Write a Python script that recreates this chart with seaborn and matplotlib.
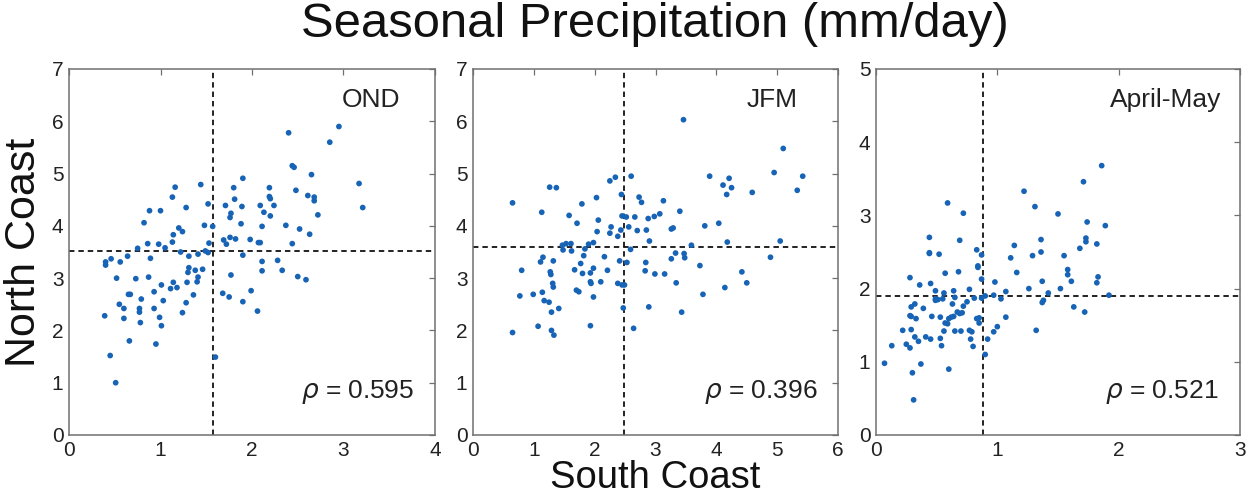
import matplotlib
matplotlib.use('Agg')
import matplotlib.pyplot as plt
import seaborn as sns
import pandas as pd

# ---------------- data ----------------
ond_south = [2.40, 2.95, 2.85, 2.44, 2.46, 2.65, 1.90, 3.17, 3.21, 1.16, 1.44, 1.13, 1.80, 2.19, 2.48,
             2.61, 2.68, 2.68, 2.19, 2.20, 1.81, 1.28, 1.52, 1.71, 1.89, 2.09, 2.24, 0.88, 1.00, 2.13,
             1.77, 1.76, 2.20, 2.72, 0.82, 1.48, 1.57, 1.88, 2.37, 2.11, 1.20, 1.24, 2.52, 1.14, 2.63,
             1.76, 1.82, 1.69, 1.98, 1.13, 1.72, 2.07, 2.09, 0.86, 0.98, 1.05, 1.53, 2.44, 0.75, 1.49,
             1.52, 1.22, 0.64, 0.46, 0.89, 1.31, 1.41, 1.90, 0.40, 0.40, 0.56, 2.11, 2.28, 1.31, 1.30,
             1.38, 1.46, 2.11, 2.33, 1.77, 0.52, 0.73, 0.87, 1.41, 1.40, 1.14, 1.29, 2.50, 2.59, 1.01,
             1.11, 1.18, 0.93, 1.99, 0.65, 0.67, 1.36, 1.68, 1.75, 0.79, 1.03, 1.28, 1.90, 0.55, 0.60,
             0.77, 0.93, 0.77, 1.24, 2.06, 0.39, 0.60, 0.99, 0.78, 1.01, 0.66, 0.95, 0.45, 1.60, 0.51]
ond_north = [5.78, 5.90, 5.60, 5.15, 5.12, 4.98, 4.91, 4.81, 4.35, 4.74, 4.79, 4.55, 4.73, 4.73, 4.68,
             4.58, 4.55, 4.48, 4.56, 4.52, 4.51, 4.35, 4.42, 4.39, 4.37, 4.39, 4.39, 4.29, 4.29, 4.26,
             4.24, 4.16, 4.19, 4.21, 4.06, 4.01, 3.99, 4.04, 4.01, 3.99, 3.96, 3.89, 3.94, 3.83, 3.84,
             3.78, 3.75, 3.73, 3.74, 3.69, 3.65, 3.68, 3.68, 3.66, 3.65, 3.58, 3.67, 3.66, 3.57, 3.52,
             3.49, 3.50, 3.42, 3.37, 3.38, 3.42, 3.46, 3.44, 3.31, 3.25, 3.31, 3.32, 3.34, 3.20, 3.11,
             3.15, 3.17, 3.14, 3.15, 3.06, 3.00, 2.99, 3.02, 3.02, 2.93, 2.92, 2.92, 3.03, 2.97, 2.87,
             2.80, 2.82, 2.74, 2.76, 2.69, 2.69, 2.68, 2.71, 2.64, 2.60, 2.57, 2.53, 2.55, 2.50, 2.42,
             2.42, 2.42, 2.35, 2.34, 2.37, 2.28, 2.23, 2.25, 2.15, 2.09, 1.80, 1.74, 1.52, 1.49, 1.00]

jfm_south = [3.46, 5.10, 4.95, 5.42, 5.33, 3.89, 4.21, 4.11, 4.25, 4.17, 4.59, 2.25, 2.34, 2.60, 1.26,
             1.37, 0.65, 1.13, 1.79, 2.03, 2.44, 2.73, 2.77, 3.13, 3.40, 1.58, 2.45, 2.52, 2.66, 2.88,
             2.98, 3.07, 1.71, 2.06, 4.04, 3.81, 2.27, 2.56, 3.26, 3.29, 2.04, 2.25, 2.43, 2.70, 2.85,
             2.38, 2.90, 4.18, 5.05, 3.59, 1.53, 1.47, 1.61, 1.48, 1.62, 1.84, 1.90, 1.98, 2.59, 3.33,
             3.47, 3.48, 3.26, 4.89, 1.15, 1.11, 1.32, 1.82, 2.16, 2.41, 2.53, 1.77, 2.84, 3.73, 0.80,
             1.27, 1.28, 1.67, 1.80, 1.93, 1.98, 2.21, 2.83, 2.99, 3.15, 4.42, 1.31, 1.32, 1.93, 1.94,
             2.10, 2.38, 2.45, 2.49, 3.34, 4.50, 4.14, 1.70, 1.74, 1.14, 0.77, 0.99, 1.98, 3.78, 1.17,
             1.25, 1.41, 1.29, 2.47, 2.89, 3.43, 1.07, 1.93, 2.64, 0.65, 1.29, 1.33]
jfm_north = [6.03, 5.48, 5.02, 4.95, 4.68, 4.95, 4.91, 4.78, 4.73, 4.60, 4.64, 4.86, 4.93, 4.95, 4.74,
             4.73, 4.44, 4.26, 4.42, 4.54, 4.60, 4.55, 4.45, 4.48, 4.28, 4.20, 4.19, 4.17, 4.17, 4.14,
             4.18, 4.23, 4.05, 4.11, 4.05, 4.00, 3.98, 3.98, 3.94, 3.96, 3.89, 3.86, 3.92, 3.91, 3.92,
             3.80, 3.71, 3.69, 3.71, 3.63, 3.66, 3.63, 3.66, 3.54, 3.52, 3.56, 3.65, 3.68, 3.55, 3.48,
             3.47, 3.39, 3.37, 3.40, 3.40, 3.31, 3.33, 3.43, 3.41, 3.33, 3.30, 3.28, 3.30, 3.24, 3.15,
             3.12, 3.07, 3.16, 3.09, 3.10, 3.19, 3.15, 3.14, 3.08, 3.08, 3.12, 2.90, 2.83, 2.93, 2.90,
             2.93, 2.90, 2.87, 2.87, 2.91, 2.91, 2.82, 2.77, 2.74, 2.73, 2.66, 2.69, 2.64, 2.69, 2.57,
             2.54, 2.42, 2.35, 2.43, 2.45, 2.35, 2.08, 2.09, 2.04, 1.96, 2.00, 1.91]

am_south = [1.86, 1.71, 1.22, 1.31, 1.50, 0.59, 0.72, 1.74, 1.89, 0.44, 0.69, 1.36, 1.73, 1.73, 1.82,
            1.68, 0.44, 0.44, 0.52, 0.83, 0.87, 1.14, 1.36, 1.11, 1.29, 1.55, 0.84, 0.84, 1.16, 0.68,
            0.57, 1.58, 1.58, 0.28, 0.36, 0.45, 0.87, 0.98, 1.37, 1.61, 1.83, 1.82, 0.49, 0.64, 0.77,
            0.56, 1.26, 1.52, 1.42, 1.07, 0.97, 0.90, 1.92, 0.49, 0.49, 0.51, 0.55, 0.65, 0.81, 1.03,
            0.87, 1.38, 1.37, 0.29, 0.32, 0.39, 0.63, 0.75, 0.72, 1.63, 1.72, 0.67, 0.69, 0.71, 0.28,
            0.29, 0.33, 0.46, 0.53, 0.60, 0.62, 0.64, 1.07, 0.83, 0.85, 0.85, 0.57, 0.59, 1.00, 0.22,
            0.29, 0.56, 0.65, 0.70, 0.77, 0.79, 0.97, 1.32, 0.32, 0.41, 0.45, 0.53, 0.35, 0.78, 0.92,
            0.25, 0.13, 0.28, 0.54, 0.80, 0.90, 0.07, 0.37, 0.30, 0.60, 0.31]
am_north = [3.68, 3.46, 3.33, 3.12, 3.02, 3.17, 3.03, 2.91, 2.86, 2.70, 2.66, 2.67, 2.69, 2.64, 2.61,
            2.55, 2.49, 2.48, 2.47, 2.53, 2.46, 2.59, 2.50, 2.42, 2.45, 2.45, 2.31, 2.29, 2.22, 2.23,
            2.21, 2.26, 2.19, 2.15, 2.05, 2.07, 2.13, 2.09, 2.10, 2.10, 2.16, 2.08, 1.97, 1.97, 1.99,
            1.94, 2.00, 2.00, 1.94, 1.96, 1.91, 1.90, 1.91, 1.86, 1.84, 1.85, 1.86, 1.88, 1.87, 1.86,
            1.87, 1.84, 1.81, 1.75, 1.79, 1.73, 1.79, 1.82, 1.76, 1.75, 1.68, 1.68, 1.66, 1.67, 1.63,
            1.62, 1.59, 1.62, 1.61, 1.59, 1.61, 1.62, 1.61, 1.59, 1.60, 1.53, 1.53, 1.52, 1.48, 1.43,
            1.44, 1.42, 1.42, 1.42, 1.43, 1.41, 1.41, 1.43, 1.34, 1.34, 1.31, 1.32, 1.28, 1.31, 1.31,
            1.24, 1.22, 1.19, 1.22, 1.21, 1.10, 0.98, 0.97, 0.85, 0.90, 0.48]

seasons = ['OND', 'JFM', 'April-May']
rho_labels = ['0.595', '0.396', '0.521']
mean_south = [1.57, 2.48, 0.885]
mean_north = [3.51, 3.59, 1.895]
xmax = [4, 6, 3]
ymax = [7, 7, 5]

# ---------------- styling ----------------
sns.set_theme(style='white')
plt.rcParams['font.family'] = ['Liberation Sans', 'DejaVu Sans']
plt.rcParams['mathtext.fontset'] = 'dejavusans'

dot_color = '#1763b5'
spine_color = '#707070'

fig = plt.figure(figsize=(12.55, 4.96), dpi=100)
W, H = 1255, 496
lefts = [69, 473, 876]
widths = [366, 365, 364]
top, bottom = 69, 435

xs = [ond_south, jfm_south, am_south]
ys = [ond_north, jfm_north, am_north]
season_pos = [(0.905, 0.948), (0.89, 0.948), (0.95, 0.948)]
rho_pos = [(0.943, 0.10), (0.945, 0.10), (0.94, 0.10)]

axes = []
for i in range(3):
    ax = fig.add_axes([lefts[i] / W, (H - bottom) / H, widths[i] / W, (bottom - top) / H])
    df = pd.DataFrame({'South Coast': xs[i], 'North Coast': ys[i]})
    sns.scatterplot(data=df, x='South Coast', y='North Coast', ax=ax, color=dot_color,
                    s=17, edgecolor='none', linewidth=0, zorder=3)
    ax.axvline(mean_south[i], color='#111111', ls=(0, (3, 2.2)), lw=1.3, zorder=2)
    ax.axhline(mean_north[i], color='#111111', ls=(0, (3, 2.2)), lw=1.3, zorder=2)
    ax.set_xlim(0, xmax[i])
    ax.set_ylim(0, ymax[i])
    ax.set_xticks(range(0, xmax[i] + 1))
    ax.set_yticks(range(0, ymax[i] + 1))
    ax.tick_params(direction='in', length=4, width=0.9, color=spine_color,
                   top=True, right=True, labelsize=15, labelcolor='#222222', pad=4)
    for sp in ax.spines.values():
        sp.set_color(spine_color)
        sp.set_linewidth(1.1)
        sp.set_visible(True)
    ax.set_xlabel('')
    ax.set_ylabel('')
    sx, sy = season_pos[i]
    ax.text(sx, sy, seasons[i], transform=ax.transAxes, ha='right', va='top',
            fontsize=19, color='#222222')
    rx, ry = rho_pos[i]
    ax.text(rx, ry, r'$\rho$ = ' + rho_labels[i], transform=ax.transAxes, ha='right',
            va='baseline', fontsize=19, color='#222222')
    axes.append(ax)

# axis titles shared by the three panels
fig.text(24.5 / W, 1 - 252.5 / H, 'North Coast', rotation=90, ha='center', va='center',
         fontsize=31, color='#111111')
fig.text((lefts[1] + widths[1] / 2) / W, 1 - 488 / H, 'South Coast', ha='center',
         va='baseline', fontsize=27.5, color='#111111')
fig.suptitle('Seasonal Precipitation (mm/day)', fontsize=35.3, color='#111111',
             x=(lefts[0] + lefts[2] + widths[2]) / 2 / W, y=0.995, va='top')

fig.savefig('out.png', dpi=100)
